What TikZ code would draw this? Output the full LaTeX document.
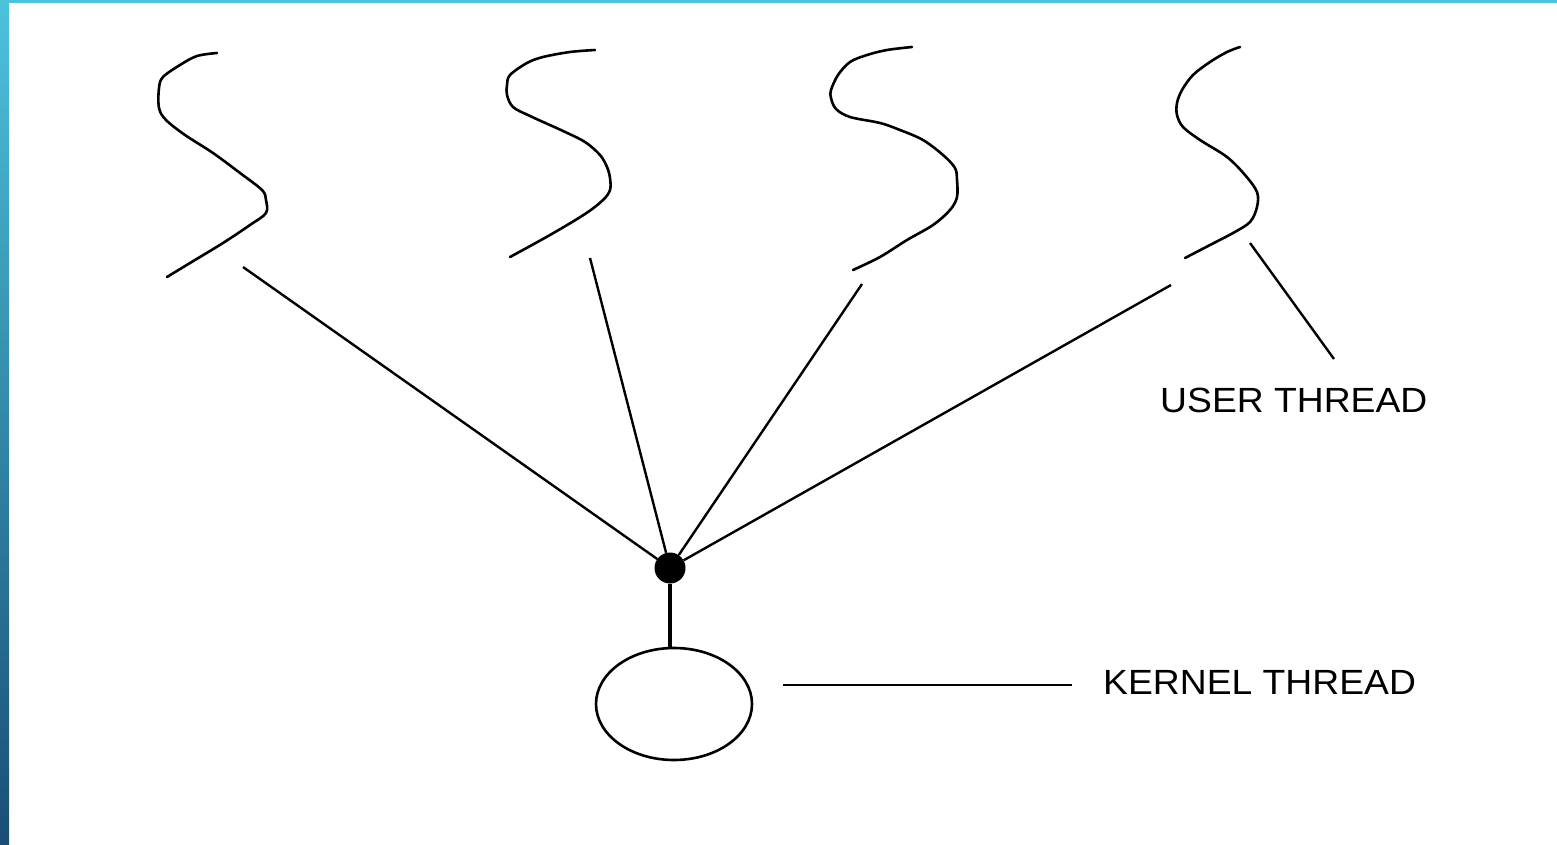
\documentclass[tikz,border=0pt]{standalone}
\usepackage{fontspec}
\setmainfont{Liberation Sans}
\usetikzlibrary{shapes.geometric}
\begin{document}
\begin{tikzpicture}[x=1pt,y=-1pt,
  thread/.style={line width=2.6pt, line join=round, line cap=round},
  link/.style={line width=2.4pt},
  label/.style={font=\fontsize{35}{40}\selectfont, xscale=1.065, inner sep=0pt, anchor=base west}]
  \useasboundingbox (0,0) rectangle (1557,845);
  % frame bars
  \definecolor{barTop}{HTML}{4DC2DB}
  \definecolor{barMid}{HTML}{3DA6C0}
  \definecolor{barBot}{HTML}{1A4E75}
  \fill[barTop] (0,0) rectangle (1557,3);
  \shade[top color=barTop, middle color=barMid, bottom color=barBot] (0,0) rectangle (9,845);

  % user threads (wavy strokes)
  \draw[thread] plot[smooth, tension=0.55] coordinates {(217,53) (197,56) (180,65) (163,77) (159,88) (159,108) (166,120) (185,135) (213,153) (240,173) (262,190) (266,200) (266,213) (250,225) (223,243) (190,263) (167,277)};
  \draw[thread] plot[smooth, tension=0.55] coordinates {(595,50) (570,52) (543,57) (527,63) (510,75) (507,85) (507,95) (513,107) (530,116) (563,131) (585,142) (600,155) (607,167) (610,178) (610,190) (603,200) (585,214) (550,235) (510,257)};
  \draw[thread] plot[smooth, tension=0.55] coordinates {(912,47) (887,50) (867,55) (850,62) (838,75) (831,90) (831,98) (836,109) (850,117) (880,123) (900,130) (923,140) (943,155) (955,168) (957,180) (957,197) (950,210) (933,225) (907,240) (880,257) (853,270)};
  \draw[thread] plot[smooth, tension=0.55] coordinates {(1240,47) (1227,52) (1210,62) (1193,75) (1182,90) (1177,103) (1177,115) (1183,127) (1200,140) (1227,157) (1245,175) (1257,192) (1257,207) (1250,222) (1233,233) (1210,245) (1185,258)};

  % mapping hub and kernel thread
  \node[circle, fill=black, minimum size=31pt, inner sep=0pt] (hub) at (670,568) {};
  \node[ellipse, draw, line width=2.6pt, minimum width=156pt, minimum height=112pt, inner sep=0pt] (kt) at (674,704) {};
  \draw[line width=4pt] (hub) -- (kt.north -| hub);

  % link start points below each user thread
  \coordinate (u1) at (243,267);
  \coordinate (u2) at (590,258);
  \coordinate (u3) at (862,284);
  \coordinate (u4) at (1171,285);
  \draw[link] (u1) -- (hub);
  \draw[link] (u2) -- (hub);
  \draw[link] (u3) -- (hub);
  \draw[link] (u4) -- (hub);

  % labels with pointer lines
  \node[label] (ul) at (1160,412) {USER THREAD};
  \coordinate (up) at (1250,243);
  \coordinate (upe) at (1334,359);
  \draw[link] (up) -- (upe);
  \node[label] (kl) at (1103,694) {KERNEL THREAD};
  \coordinate (kp) at (783,685);
  \coordinate (kpe) at (1072,685);
  \draw[link] (kp) -- (kpe);
\end{tikzpicture}
\end{document}
